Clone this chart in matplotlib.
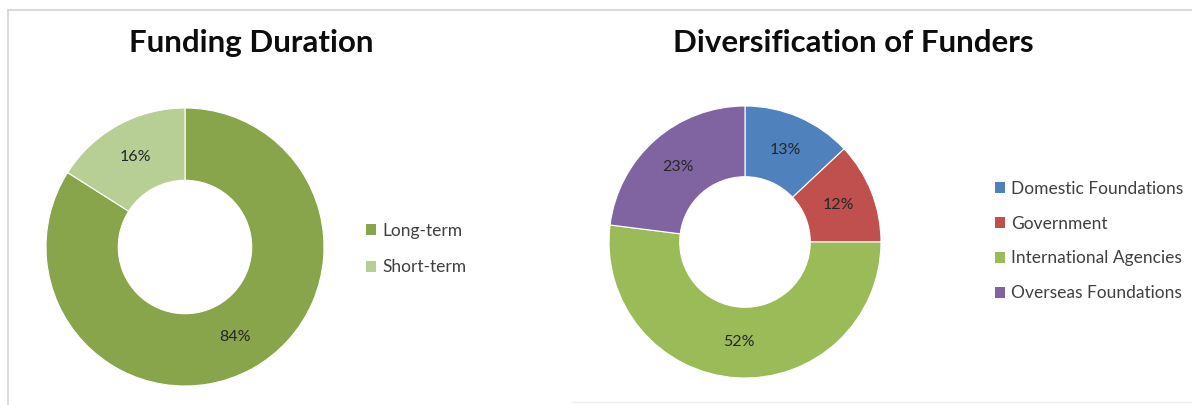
import matplotlib
matplotlib.use("Agg")
import matplotlib.pyplot as plt
from matplotlib.lines import Line2D
from matplotlib.patches import Patch

plt.rcParams['font.family'] = ['Lato', 'DejaVu Sans']

# data
duration_labels = ['Long-term', 'Short-term']
duration_values = [84, 16]
duration_colors = ['#88a54c', '#b7cf95']

funder_labels = ['Domestic Foundations', 'Government', 'International Agencies', 'Overseas Foundations']
funder_values = [13, 12, 52, 23]
funder_colors = ['#4f81bd', '#c0504d', '#9bbb59', '#8064a2']

W, H = 1192, 405
fig = plt.figure(figsize=(W / 100, H / 100), dpi=100)
fig.patch.set_facecolor('white')


def px_axes(cx, cy, r):
    # axes square around a donut centre given in pixels (top-left origin)
    return fig.add_axes([(cx - r) / W, (H - cy - r) / H, 2 * r / W, 2 * r / H])


def donut(ax, values, colors):
    wedges, texts, autotexts = ax.pie(values, colors=colors, startangle=90, counterclock=False,
                                      radius=1, autopct='%d%%', pctdistance=0.74,
                                      wedgeprops={'width': 0.52, 'edgecolor': 'white', 'linewidth': 0.8})
    for t in autotexts:
        t.set_fontsize(11.5)
        t.set_color('#262626')
    ax.set_xlim(-1, 1)
    ax.set_ylim(-1, 1)
    ax.set_aspect('equal')
    ax.axis('off')
    return wedges


ax1 = px_axes(185, 247, 139)
donut(ax1, duration_values, duration_colors)

ax2 = px_axes(745, 242, 136)
donut(ax2, funder_values, funder_colors)

fig.text(251 / W, 1 - 43 / H, 'Funding Duration', ha='center', va='center',
         fontsize=22.5, fontweight='bold', color='#0d0d0d')
fig.text(853 / W, 1 - 43 / H, 'Diversification of Funders', ha='center', va='center',
         fontsize=22.5, fontweight='bold', color='#0d0d0d')

h1 = [Patch(facecolor=c, edgecolor='none') for c in duration_colors]
fig.legend(h1, duration_labels, loc='center left', bbox_to_anchor=(350 / W, 1 - 249 / H),
           frameon=False, fontsize=12.5, labelspacing=1.19, handlelength=0.6, handleheight=0.6,
           handletextpad=0.35, labelcolor='#404040')

h2 = [Patch(facecolor=c, edgecolor='none') for c in funder_colors]
fig.legend(h2, funder_labels, loc='center left', bbox_to_anchor=(979 / W, 1 - 241 / H),
           frameon=False, fontsize=12.5, labelspacing=1.09, handlelength=0.6, handleheight=0.6,
           handletextpad=0.35, labelcolor='#404040')

# panel border lines
fig.add_artist(Line2D([8 / W, 1], [1 - 10 / H, 1 - 10 / H], color='#d4d4d4', lw=1.2))
fig.add_artist(Line2D([8 / W, 8 / W], [0, 1 - 10 / H], color='#d4d4d4', lw=1.2))
fig.add_artist(Line2D([572 / W, 1], [1 - 402 / H, 1 - 402 / H], color='#eeeeee', lw=1))

fig.savefig('out.png', dpi=100, facecolor='white')
